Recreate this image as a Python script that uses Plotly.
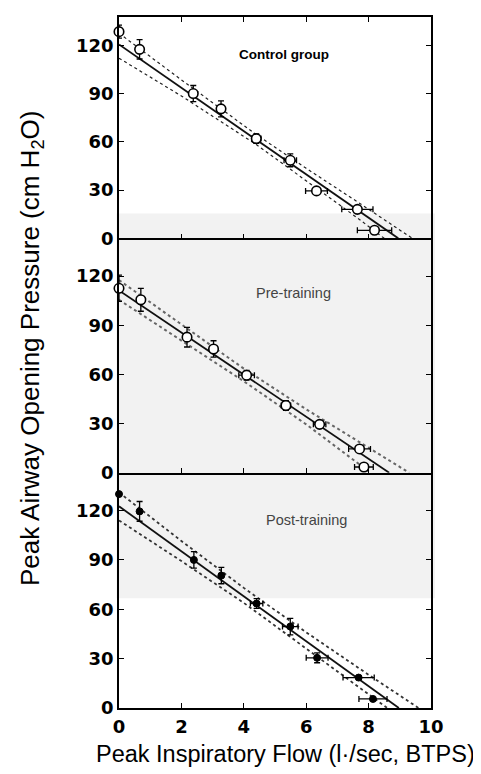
import plotly.graph_objects as go

# ---------------- data ----------------
# Control group (open circles)
ctrl_x = [0.0, 0.66, 2.38, 3.27, 4.40, 5.49, 6.33, 7.64, 8.19]
ctrl_y = [128.5, 117.5, 90.0, 80.5, 62.0, 48.5, 29.5, 18.0, 5.0]
ctrl_ex = [0, 0, 0, 0, 0.15, 0.2, 0.35, 0.5, 0.55]
ctrl_ey = [4, 6, 5, 5, 3, 4, 2, 0, 0]
ctrl_fit_x = [0.0, 8.95]
ctrl_fit_y = [120.5, 0.0]
ctrl_up_x = [0.0, 2.0, 4.4, 6.0, 7.64, 9.4]
ctrl_up_y = [127.5, 98.5, 64.5, 43.5, 22.7, 0.0]
ctrl_lo_x = [0.0, 2.0, 4.4, 6.0, 7.64, 8.5]
ctrl_lo_y = [112.0, 88.5, 58.3, 36.0, 12.7, 0.0]

# Pre-training (open circles)
pre_x = [0.0, 0.70, 2.18, 3.03, 4.09, 5.35, 6.43, 7.71, 7.85]
pre_y = [112.5, 105.5, 82.7, 75.5, 59.5, 41.0, 29.5, 14.5, 3.5]
pre_ex = [0, 0, 0, 0, 0.25, 0.15, 0.2, 0.35, 0.3]
pre_ey = [8, 7, 6, 5, 3, 3, 0, 0, 0]
pre_fit_x = [0.0, 8.66]
pre_fit_y = [111.2, 0.0]
pre_up_x = [0.0, 2.0, 4.0, 6.0, 8.0, 9.3]
pre_up_y = [117.5, 90.5, 63.5, 38.7, 15.0, 0.0]
pre_lo_x = [0.0, 2.0, 4.0, 6.0, 8.06]
pre_lo_y = [105.5, 80.5, 55.8, 29.5, 0.0]

# Post-training (filled circles)
post_x = [0.0, 0.66, 2.40, 3.28, 4.41, 5.49, 6.35, 7.68, 8.14]
post_y = [130.0, 119.5, 90.0, 80.5, 63.5, 49.5, 30.5, 18.5, 5.5]
post_ex = [0, 0, 0, 0, 0.2, 0.25, 0.35, 0.5, 0.45]
post_ey = [0, 6, 5, 5, 3, 5, 3, 0, 0]
post_fit_x = [0.0, 8.97]
post_fit_y = [122.6, 0.0]
post_up_x = [0.0, 2.0, 4.0, 6.0, 8.0, 9.6]
post_up_y = [131.0, 101.5, 73.0, 46.0, 20.2, 0.0]
post_lo_x = [0.0, 2.0, 4.0, 6.0, 8.0, 8.6]
post_lo_y = [114.0, 89.3, 63.9, 36.1, 8.2, 0.0]

panel_labels = ["Control group", "Pre-training", "Post-training"]
y_ticks = [0, 30, 60, 90, 120]
x_ticks = [0, 2, 4, 6, 8, 10]
x_title = "Peak Inspiratory Flow (l·/sec, BTPS)"
y_title = "Peak Airway Opening Pressure (cm H<sub>2</sub>O)"

# ---------------- figure ----------------
fig = go.Figure()

panels = [
    ("x", "y", ctrl_x, ctrl_y, ctrl_ex, ctrl_ey, ctrl_fit_x, ctrl_fit_y,
     ctrl_up_x, ctrl_up_y, ctrl_lo_x, ctrl_lo_y, "open", 1.2, "#222"),
    ("x2", "y2", pre_x, pre_y, pre_ex, pre_ey, pre_fit_x, pre_fit_y,
     pre_up_x, pre_up_y, pre_lo_x, pre_lo_y, "open", 2.0, "#666"),
    ("x3", "y3", post_x, post_y, post_ex, post_ey, post_fit_x, post_fit_y,
     post_up_x, post_up_y, post_lo_x, post_lo_y, "filled", 1.8, "#333"),
]

for (xa, ya, px, py, pex, pey, fx, fy, ux, uy, lx, ly, kind, dw, dc) in panels:
    fig.add_trace(go.Scatter(x=ux, y=uy, xaxis=xa, yaxis=ya, mode="lines",
                             line=dict(color=dc, width=dw, dash="dot"),
                             showlegend=False, hoverinfo="skip"))
    fig.add_trace(go.Scatter(x=lx, y=ly, xaxis=xa, yaxis=ya, mode="lines",
                             line=dict(color=dc, width=dw, dash="dot"),
                             showlegend=False, hoverinfo="skip"))
    fig.add_trace(go.Scatter(x=fx, y=fy, xaxis=xa, yaxis=ya, mode="lines",
                             line=dict(color="#111", width=1.8),
                             showlegend=False, hoverinfo="skip"))
    if kind == "open":
        mk = dict(symbol="circle", size=9.5, color="white",
                  line=dict(color="black", width=1.6))
    else:
        mk = dict(symbol="circle", size=7, color="black",
                  line=dict(color="black", width=1))
    fig.add_trace(go.Scatter(
        x=px, y=py, xaxis=xa, yaxis=ya, mode="markers", marker=mk,
        cliponaxis=False, showlegend=False,
        error_x=dict(type="data", array=pex, visible=True, color="black",
                     thickness=1.3, width=3),
        error_y=dict(type="data", array=pey, visible=True, color="black",
                     thickness=1.3, width=3)))

axis_common = dict(showline=True, linecolor="black", linewidth=1.5,
                   ticks="inside", ticklen=5,
                   tickcolor="black", tickwidth=1.3, showgrid=False,
                   zeroline=False)
tickfont = dict(family="DejaVu Sans, Liberation Sans, Arial, sans-serif",
                size=18, color="black", weight="bold")

doms = [[0.6797, 1.0], [0.3405, 0.6797], [0.0, 0.3405]]
yranges = [[0, 137.6], [0, 143], [0, 143]]

# figure sized so that it fits the window with the page's own offset
layout = dict(
    width=473, height=766,
    margin=dict(l=111, r=50, t=7, b=66),
    paper_bgcolor="white", plot_bgcolor="rgba(0,0,0,0)",
    showlegend=False,
)
for i in range(3):
    s = "" if i == 0 else str(i + 1)
    layout["xaxis" + s] = dict(axis_common, domain=[0, 1], range=[0, 10],
                               anchor="y" + s, tickvals=x_ticks,
                               mirror=("ticks" if i == 0 else False),
                               showticklabels=(i == 2), tickfont=tickfont,
                               ticklabelstandoff=2)
    layout["yaxis" + s] = dict(axis_common, domain=doms[i], range=yranges[i],
                               anchor="x" + s, tickvals=y_ticks,
                               mirror="ticks",
                               tickfont=tickfont, ticklabelstandoff=0)
fig.update_layout(**layout)

# light grey scan tone behind lower part of figure
fig.add_shape(type="rect", xref="paper", yref="paper", layer="below",
              x0=-0.008, x1=1.013, y0=0.1587, y1=0.7157,
              fillcolor="#f2f2f2", line=dict(width=0))

# panel labels
fig.add_annotation(xref="x", yref="y", x=5.3, y=114, text=panel_labels[0],
                   showarrow=False,
                   font=dict(family="Liberation Sans, Arial", size=13.5,
                             color="black", weight="bold"))
fig.add_annotation(xref="x2", yref="y2", x=5.6, y=109.5, text=panel_labels[1],
                   showarrow=False,
                   font=dict(family="Liberation Sans, Arial", size=14.5,
                             color="#444"))
fig.add_annotation(xref="x3", yref="y3", x=6.0, y=114, text=panel_labels[2],
                   showarrow=False,
                   font=dict(family="Liberation Sans, Arial", size=14.5,
                             color="#444"))

# axis titles
fig.add_annotation(xref="paper", yref="paper", x=0.535, y=-0.0664,
                   xanchor="center", yanchor="middle",
                   text=x_title, showarrow=False,
                   font=dict(family="Liberation Sans, Arial", size=23.5,
                             color="black"))
fig.add_annotation(xref="paper", yref="paper", x=-0.281, y=0.52,
                   xanchor="center", yanchor="middle",
                   text=y_title, textangle=-90, showarrow=False,
                   font=dict(family="Liberation Sans, Arial", size=26,
                             color="black"))

fig.write_html("out.html")
